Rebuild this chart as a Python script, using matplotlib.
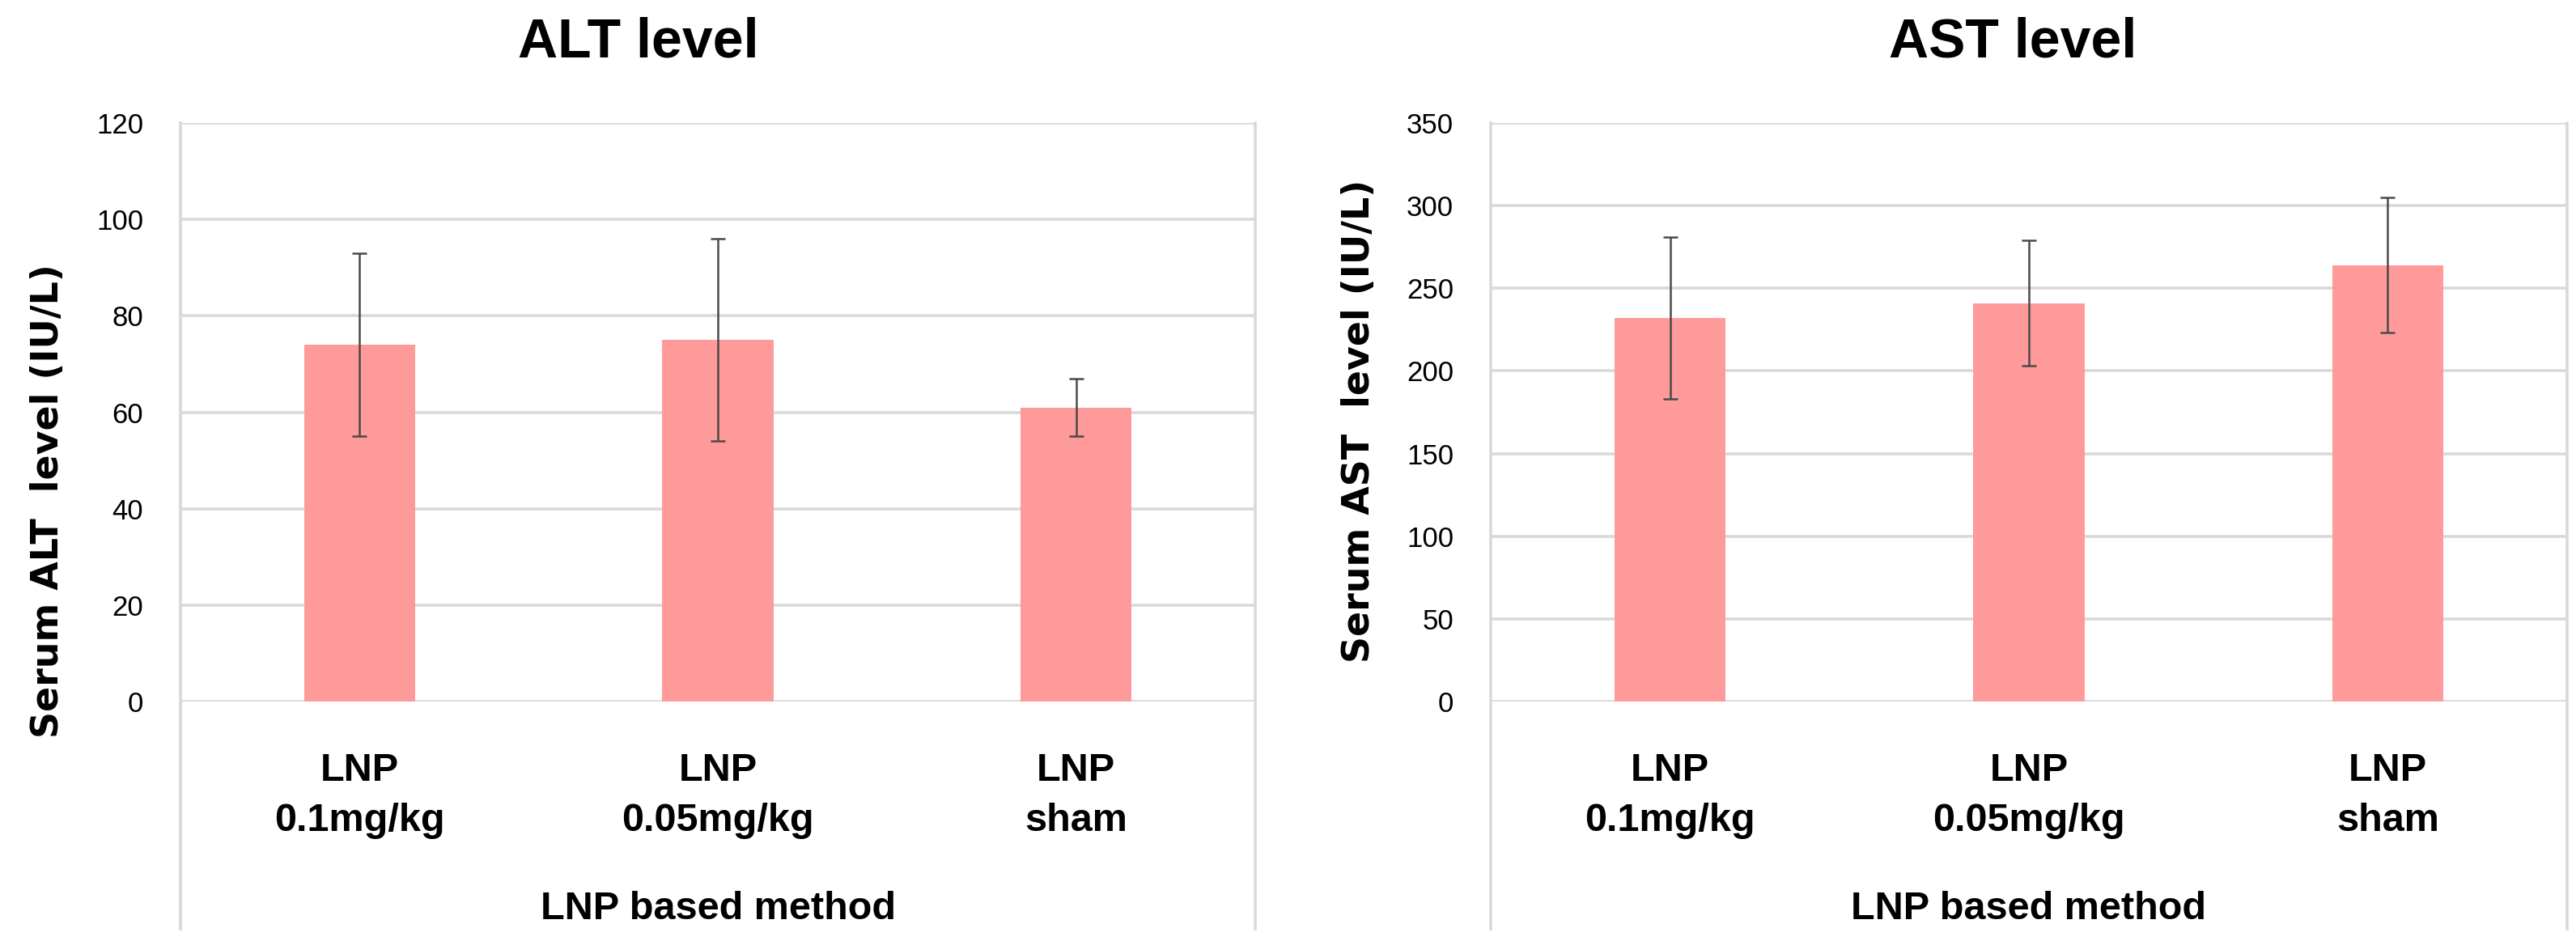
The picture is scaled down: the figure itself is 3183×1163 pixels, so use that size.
import matplotlib.pyplot as plt
import numpy as np

groups = ["LNP\n0.1mg/kg", "LNP\n0.05mg/kg", "LNP\nsham"]

alt_mean = [74, 75, 61]
alt_err = [19, 21, 6]
ast_mean = [232, 241, 264]
ast_err = [49, 38, 41]

alt_ticks = [0, 20, 40, 60, 80, 100, 120]
ast_ticks = [0, 50, 100, 150, 200, 250, 300, 350]

barColor = "#FF9A9A"
gridColor = "#D9D9D9"
errColor = "#4A4A4A"
narrow = ["Liberation Sans", "DejaVu Sans"]

fig = plt.figure(figsize=(31.83, 11.63), dpi=100)

def panel(rect, means, errs, ticks, title, ylabel, titleX, ylabX, ylabY):
    ax = fig.add_axes(rect)
    x = np.arange(len(means))
    ax.bar(x, means, width=0.31, color=barColor, zorder=2)
    ax.errorbar(x, means, yerr=errs, fmt="none", ecolor=errColor,
                elinewidth=1.8, capsize=6.5, capthick=1.8, zorder=3)
    ax.set_xlim(-0.5, len(means) - 0.5)
    ax.set_ylim(ticks[0], ticks[-1])
    ax.set_yticks(ticks)
    ax.set_yticklabels([str(t) for t in ticks], family=narrow, fontsize=25)
    ax.set_xticks(x)
    ax.set_xticklabels(groups, family=narrow, fontsize=35, fontweight="bold",
                       linespacing=1.5)
    ax.tick_params(axis="y", length=0, pad=33)
    ax.tick_params(axis="x", length=0, pad=45)
    ax.yaxis.grid(True, color=gridColor, linewidth=2.6, zorder=0)
    ax.set_axisbelow(True)
    for s in ax.spines.values():
        s.set_visible(False)
    # plot area border (left/right), running down below the labels
    for xx in (0, 1):
        ax.plot([xx, xx], [-0.393, 1], transform=ax.transAxes, color=gridColor,
                linewidth=2.6, clip_on=False, zorder=1)
    ax.text(0.5, -0.3594, "LNP based method", transform=ax.transAxes,
            ha="center", va="center", family=narrow, fontsize=35, fontweight="bold")
    fig.text(titleX, 0.955, title, ha="center", va="center", family=narrow,
             fontsize=49, fontweight="bold")
    fig.text(ylabX, ylabY, ylabel, rotation=90, ha="center", va="center",
             family="DejaVu Sans", fontsize=33, fontweight="bold")
    return ax

panel([0.07006, 0.25451, 0.41722, 0.61479], alt_mean, alt_err, alt_ticks,
      "ALT level", "Serum ALT  level (IU/L)", 789 / 3183, 60 / 3183, 1 - 619 / 1163)
panel([0.57870, 0.25451, 0.41784, 0.61479], ast_mean, ast_err, ast_ticks,
      "AST level", "Serum AST  level (IU/L)", 2487 / 3183, 1680 / 3183, 1 - 520 / 1163)

fig.savefig("out.png", dpi=100, facecolor="white")
